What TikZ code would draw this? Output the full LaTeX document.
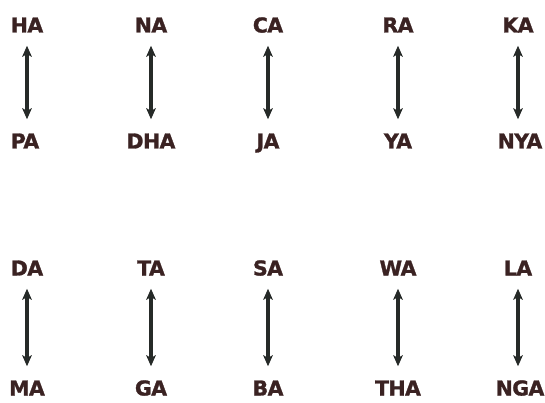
\documentclass[tikz,border=0pt]{standalone}
\usepackage{fontspec}
\setmainfont{DejaVu Sans}
\newfontfamily\lblfont{DejaVu Sans}[BoldFeatures={FakeBold=1.3}, LetterSpace=-3]
\usetikzlibrary{arrows.meta}
\definecolor{txt}{HTML}{3A2222}
\definecolor{arr}{HTML}{262A28}
\tikzset{
  lbl/.style={font=\lblfont\fontsize{20.5}{20.5}\selectfont\bfseries, text=txt, inner sep=0pt, anchor=center, text height=15pt, text depth=0pt},
  link/.style={draw=arr, line width=3.6pt, {Stealth[length=11pt,width=9.5pt,inset=2.5pt]}-{Stealth[length=11pt,width=9.5pt,inset=2.5pt]}, shorten <=13pt, shorten >=14pt}
}
\begin{document}
\begin{tikzpicture}[x=1pt,y=-1pt]
\useasboundingbox (0,0) rectangle (545,403);
\node[lbl] (ha) at (27,25) {HA};
\node[lbl] (pa) at (25,141) {PA};
\node[lbl] (na) at (151,25) {NA};
\node[lbl] (dha) at (151,141) {DHA};
\node[lbl] (ca) at (268,25) {CA};
\node[lbl] (ja) at (268,141) {JA};
\node[lbl] (ra) at (398,25) {RA};
\node[lbl] (ya) at (398,141) {YA};
\node[lbl] (ka) at (518,25) {KA};
\node[lbl] (nya) at (520,141) {NYA};
\node[lbl] (da) at (27,268) {DA};
\node[lbl] (ma) at (27,388) {MA};
\node[lbl] (ta) at (151,268) {TA};
\node[lbl] (ga) at (151,388) {GA};
\node[lbl] (sa) at (268,268) {SA};
\node[lbl] (ba) at (268,388) {BA};
\node[lbl] (wa) at (398,268) {WA};
\node[lbl] (tha) at (398,388) {THA};
\node[lbl] (la) at (518,268) {LA};
\node[lbl] (nga) at (520,388) {NGA};
\draw[link] (ha.south) -- (ha.south |- pa.north);
\draw[link] (na.south) -- (dha.north);
\draw[link] (ca.south) -- (ja.north);
\draw[link] (ra.south) -- (ya.north);
\draw[link] (ka.south) -- (ka.south |- nya.north);
\draw[link] (da.south) -- (da.south |- ma.north);
\draw[link] (ta.south) -- (ga.north);
\draw[link] (sa.south) -- (ba.north);
\draw[link] (wa.south) -- (tha.north);
\draw[link] (la.south) -- (la.south |- nga.north);
\end{tikzpicture}
\end{document}
